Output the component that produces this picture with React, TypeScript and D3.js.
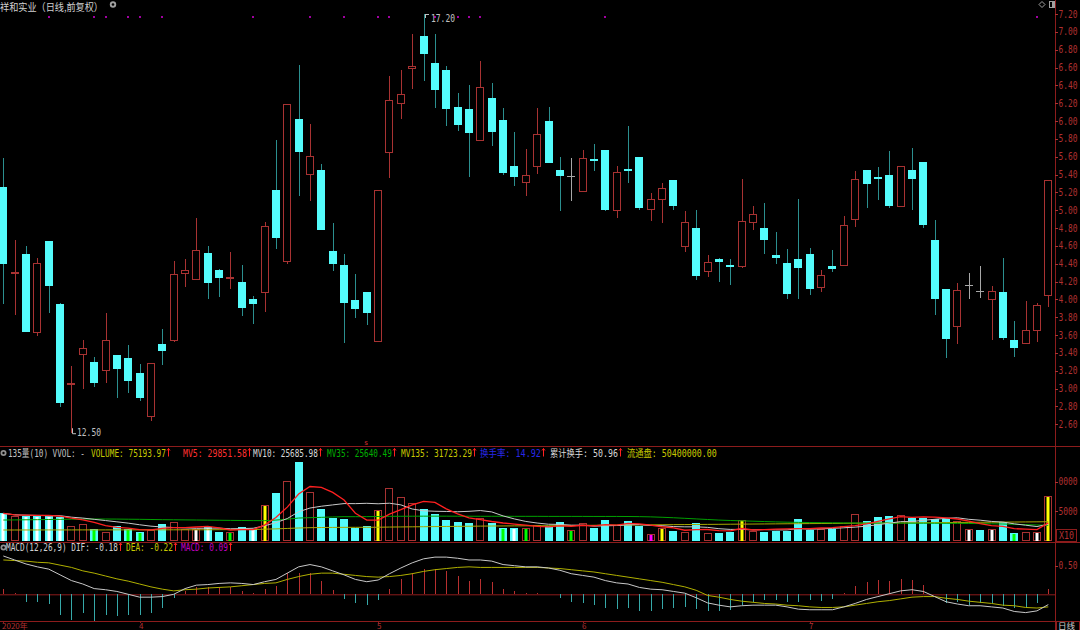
import * as d3 from "d3";

const title = "祥和实业（日线,前复权）";

// daily candles
const opens = [15.26,14.29,14.51,13.64,14.65,13.95,13.04,13.39,13.30,13.21,13.38,13.34,13.17,12.69,13.50,13.55,14.30,14.23,14.52,14.33,14.23,14.20,14.00,14.08,15.23,14.43,16.02,15.41,15.45,14.54,14.39,13.99,14.08,13.53,15.65,16.20,16.60,16.95,16.65,16.57,16.16,16.13,15.79,16.26,16.01,15.50,15.32,15.50,16.00,15.45,15.38,15.22,15.57,15.67,15.00,15.46,15.60,15.01,15.13,15.34,14.60,14.80,14.32,14.45,14.39,14.38,14.87,14.80,14.50,14.41,14.45,14.51,14.14,14.38,14.39,14.90,15.45,15.37,15.39,15.05,15.45,15.54,14.67,14.12,13.70,14.16,14.09,14.01,14.08,13.55,13.51,13.66,14.05];
const highs = [15.59,14.67,14.60,14.46,14.66,13.96,13.25,13.55,13.35,13.85,13.38,13.49,13.28,13.29,13.67,14.43,14.45,14.91,14.60,14.34,14.53,14.39,14.04,14.87,15.79,16.19,16.63,15.97,15.52,14.86,14.51,14.28,14.08,15.23,16.51,16.57,16.98,17.20,16.98,16.62,16.31,16.40,16.67,16.43,16.15,15.88,15.69,16.15,16.16,15.60,15.58,15.67,15.74,15.67,15.50,15.94,15.60,15.19,15.31,15.34,14.99,15.00,14.50,14.47,14.45,15.35,15.05,15.08,14.76,14.57,15.13,14.58,14.33,14.55,14.94,15.44,15.45,15.48,15.66,15.50,15.70,15.54,14.89,14.12,14.18,14.30,14.38,14.15,14.47,13.76,13.98,13.96,15.34];
const lows = [13.95,13.83,13.63,13.59,13.85,12.79,12.50,13.00,13.02,13.06,12.90,12.95,12.86,12.64,13.27,13.52,14.14,14.23,14.00,14.03,14.12,13.81,13.73,13.86,14.56,14.40,15.16,15.10,14.78,14.32,13.51,13.79,13.71,13.53,15.36,16.02,16.36,16.45,16.15,15.94,15.89,15.37,15.79,15.72,15.40,15.27,15.16,15.41,15.53,14.99,15.10,15.20,15.44,14.99,14.91,15.31,15.00,14.88,14.86,15.00,14.53,14.22,14.25,14.20,14.16,14.35,14.78,14.51,14.40,14.00,14.00,14.05,14.08,14.31,14.39,14.81,15.02,15.12,15.02,15.05,15.00,14.80,13.83,13.34,13.50,14.00,14.02,13.55,13.55,13.35,13.51,13.52,13.91];
const closes = [14.40,14.30,13.63,14.41,14.15,12.84,13.05,13.45,13.06,13.55,13.22,13.08,12.90,13.29,13.42,14.29,14.33,14.55,14.18,14.24,14.24,13.90,13.95,14.82,14.69,16.19,15.65,15.61,14.78,14.40,13.96,13.89,13.85,15.23,16.24,16.30,16.62,16.75,16.35,16.13,15.95,15.87,16.38,15.88,15.42,15.37,15.39,15.86,15.53,15.38,15.38,15.58,15.56,15.00,15.43,15.45,15.03,15.13,15.25,15.05,14.87,14.26,14.42,14.42,14.37,14.88,14.96,14.67,14.46,14.06,14.35,14.12,14.27,14.34,14.83,15.35,15.29,15.35,15.05,15.50,15.35,14.83,14.01,13.56,14.11,14.16,14.09,14.09,13.57,13.45,13.66,13.94,15.34];

// volume (hands) and the colour code of each bar: C cyan / R hollow red, W G Y M = inner stripe
const volumes = [46080,40960,41470,41470,41470,40270,24400,27300,18770,14680,24400,18770,13650,17580,27300,31230,18770,18770,22180,14680,13650,22180,18770,60240,80200,101700,134100,82940,52900,37540,35840,21500,24400,52220,89760,73380,63140,52900,44880,34130,30720,29010,37540,29010,21500,21500,20480,26110,24400,30720,18090,29010,20990,34640,26110,33450,24400,10240,21500,15870,13650,29010,11950,11950,13650,34130,16380,14680,15870,15870,36350,17580,19280,19280,24400,44880,32940,39760,41470,43170,38050,38050,36350,36350,32940,19280,17580,18770,30720,12970,14680,14680,75194];
const volStyle = ["CW","R","CW","CW","CW","CW","R","R","CG","R","C","CG","CG","R","C","R","R","RW","CW","C","RG","C","CW","RY","C","R","C","R","C","C","C","C","C","RY","R","R","R","C","C","C","C","C","R","C","CG","CW","RG","R","C","C","RG","R","C","C","R","C","C","RM","RY","C","R","C","R","C","C","RY","R","C","C","C","C","C","R","C","R","R","C","C","C","R","C","C","C","C","R","RW","C","RW","C","CG","R","RW","RY"];
const mv35 = [34600,34800,35000,35200,35500,35800,36000,36200,36300,36300,36200,36000,35800,35500,35200,35000,34800,34600,34400,34200,34000,33800,33600,33500,34500,36000,38000,38600,39200,39800,40300,40300,40400,40600,40900,41000,41100,41200,41200,41200,41100,41100,41000,41000,41000,40900,40900,40900,40800,40800,40800,40800,40700,40700,40700,40600,40400,40000,39300,38500,37500,36500,35500,34500,33800,33200,32600,32000,31400,30900,30600,30300,30100,29900,29700,29500,29400,29300,29300,29300,29200,29200,29100,29000,28900,28700,28500,28200,27800,27300,26800,26200,25640];
const mv135 = [17600,17600,17650,17650,17700,17700,17700,17750,17750,17750,17800,17800,17800,17850,17850,17900,17900,17900,18000,18100,18200,18300,18400,19000,19500,20200,21000,21500,21800,22000,22100,22150,22200,22300,22600,22800,23000,23200,23400,23600,23800,24000,24200,24400,24500,24600,24700,24800,24900,25000,25200,25400,25600,25800,26000,26100,26250,26400,26550,26700,26850,27000,27150,27300,27450,27600,27750,27900,28050,28200,28350,28500,28650,28800,28950,29100,29250,29400,29550,29700,29850,30000,30150,30300,30450,30600,30750,30900,31050,31200,31350,31500,31723];

// MACD(12,26,9)
const dif = [0.67,0.60,0.53,0.48,0.44,0.34,0.24,0.18,0.10,0.08,0.05,0.00,-0.05,-0.05,-0.04,0.00,0.10,0.16,0.17,0.19,0.20,0.19,0.17,0.22,0.26,0.37,0.48,0.52,0.48,0.41,0.34,0.26,0.22,0.25,0.36,0.46,0.55,0.62,0.65,0.65,0.63,0.60,0.60,0.58,0.52,0.50,0.48,0.48,0.46,0.42,0.36,0.33,0.30,0.24,0.20,0.18,0.12,0.09,0.08,0.05,0.02,-0.06,-0.15,-0.19,-0.22,-0.20,-0.19,-0.19,-0.19,-0.22,-0.26,-0.27,-0.27,-0.27,-0.22,-0.16,-0.09,-0.04,0.01,0.06,0.08,0.05,-0.04,-0.13,-0.17,-0.20,-0.20,-0.22,-0.24,-0.30,-0.32,-0.29,-0.18];
const dea = [0.60,0.59,0.58,0.56,0.55,0.51,0.47,0.41,0.37,0.32,0.27,0.23,0.18,0.13,0.09,0.06,0.08,0.09,0.11,0.12,0.13,0.15,0.17,0.19,0.20,0.26,0.31,0.35,0.37,0.37,0.35,0.33,0.31,0.30,0.31,0.33,0.36,0.40,0.43,0.45,0.47,0.48,0.47,0.47,0.47,0.47,0.47,0.47,0.46,0.45,0.43,0.41,0.39,0.36,0.33,0.30,0.27,0.24,0.21,0.17,0.13,0.07,-0.02,-0.05,-0.09,-0.12,-0.14,-0.16,-0.17,-0.19,-0.20,-0.22,-0.23,-0.23,-0.22,-0.19,-0.16,-0.13,-0.11,-0.08,-0.05,-0.04,-0.04,-0.07,-0.09,-0.12,-0.14,-0.16,-0.19,-0.20,-0.23,-0.24,-0.22];
const macd = [0.10,0.03,-0.13,-0.13,-0.17,-0.36,-0.45,-0.32,-0.46,-0.36,-0.38,-0.36,-0.36,-0.32,-0.24,-0.07,0.05,0.12,0.13,0.12,0.13,0.06,0.03,0.10,0.15,0.37,0.38,0.38,0.23,0.08,-0.09,-0.16,-0.18,-0.10,0.10,0.26,0.38,0.44,0.44,0.40,0.32,0.24,0.26,0.22,0.10,0.06,0.02,0.02,0.00,-0.06,-0.14,-0.16,-0.18,-0.24,-0.26,-0.24,-0.30,-0.30,-0.26,-0.24,-0.22,-0.26,-0.30,-0.30,-0.27,-0.19,-0.13,-0.10,-0.10,-0.14,-0.14,-0.10,-0.12,-0.09,0.02,0.15,0.22,0.25,0.23,0.27,0.25,0.16,0.00,-0.16,-0.13,-0.19,-0.16,-0.16,-0.20,-0.24,-0.22,-0.16,0.09];

const priceTicks = d3.range(0, 24).map((k) => +(17.2 - k * 0.2).toFixed(2));
const volTicks = [100000, 50000];
const macdTicks = [0.5];
const dateIdx = [0, 12, 33, 51, 71];
const dateLabels = ["2020年", "4", "5", "6", "7"];
const markerIdx = [4, 8, 9, 11, 12, 14, 22, 27, 30, 33, 34, 38, 40, 41, 42, 53, 91];

const volLegend = [
  { t: "135量(10) VVOL: -", x: 8, w: 77, c: "#c0c0c0" },
  { t: "VOLUME: 75193.97", x: 91, w: 75, c: "#c8c800", up: true },
  { t: "MV5: 29851.58", x: 183, w: 64, c: "#ff3030", up: true },
  { t: "MV10: 25685.98", x: 253, w: 65, c: "#d8d8d8", up: true },
  { t: "MV35: 25640.49", x: 327, w: 65, c: "#00b000", up: true },
  { t: "MV135: 31723.29", x: 401, w: 71, c: "#c8c800", up: true },
  { t: "换手率: 14.92", x: 480, w: 61, c: "#2828e8", up: true },
  { t: "累计换手: 50.96", x: 550, w: 68, c: "#d8d8d8", up: true },
  { t: "流通盘: 50400000.00", x: 627, w: 90, c: "#c8c800" },
];
const macdLegend = [
  { t: "MACD(12,26,9) DIF: -0.18", x: 6, w: 112, c: "#d0d0d0", up: true },
  { t: "DEA: -0.22", x: 126, w: 47, c: "#c8c800", up: true },
  { t: "MACD: 0.09", x: 181, w: 47, c: "#c000c0", up: true },
];

const CYAN = "#54fcfc";
const CYAN_W = "#2b8f8f";
const RED = "#a83232";
const GRAY = "#a8a8a8";
const AXIS = "#8c1c1c";
const LBL = "#b03030";
const FONT = "'DejaVu Sans Mono','Noto Sans CJK SC',monospace";
const stripeCol: Record<string, string> = { W: "#ffffff", G: "#00ff00", Y: "#ffff00", M: "#ff00ff" };

// narrow bitmap-like text: squeeze a mono font to the width seen in the picture
function Narrow({ t, x, y, w, fill, size = 10, end = false }: { t: string; x: number; y: number; w: number; fill: string; size?: number; end?: boolean }) {
  const natural = Array.from(t).reduce((s, ch) => s + (ch.charCodeAt(0) > 0x2e80 ? size : size * 0.602), 0);
  const k = w / natural;
  const x0 = end ? x - w : x;
  return (
    <text transform={`translate(${x0},${y}) scale(${k.toFixed(3)},1)`} fill={fill} fontSize={size} fontFamily={FONT}>
      {t}
    </text>
  );
}

function Legend({ items, y }: { items: typeof volLegend; y: number }) {
  return (
    <g>
      <circle cx={3.5} cy={y - 3.5} r={3} fill="#909090" />
      <circle cx={3.5} cy={y - 3.5} r={1.2} fill="#000" />
      {items.map((d) => {
        const ax = Math.round(d.x + d.w + 2) + 0.5;
        return (
          <g key={d.t}>
            <Narrow t={d.t} x={d.x} y={y} w={d.w} fill={d.c} />
            {d.up && (
              <path d={`M${ax},${y - 8}L${ax},${y}M${ax - 1.5},${y - 6}L${ax},${y - 8}L${ax + 1.5},${y - 6}`} stroke="#ff2020" fill="none" />
            )}
          </g>
        );
      })}
    </g>
  );
}

// the terminal shows only the last four characters of an axis label
const shortLabel = (s: string) => (s.length > 4 ? s.slice(s.length - 4) : s);

export default function App() {
  const n = closes.length;
  const x = d3.scalePoint<number>().domain(d3.range(n)).range([3.3, 1048.3]);
  const yP = d3.scaleLinear().domain([12.6, 17.2]).range([424.3, 14]);
  const yV = d3.scaleLinear().domain([0, 100000]).range([540.3, 481.7]);
  const yM = d3.scaleLinear().domain([0, 0.5]).range([594.3, 565.7]);
  const px = (i: number) => Math.round(x(i)!);

  const ma = (k: number) => volumes.map((_, i) => d3.mean(volumes.slice(Math.max(0, i - k + 1), i + 1))!);
  const vLine = d3.line<number>().x((_, i) => x(i)!).y((d) => yV(d));
  const mLine = d3.line<number>().x((_, i) => x(i)!).y((d) => yM(d));

  const hi = d3.maxIndex(highs);
  const lo = d3.minIndex(lows);

  return (
    <div style={{ position: "fixed", left: 0, top: 0 }}>
      <svg width={1080} height={630} style={{ display: "block", background: "#000" }}>
        <defs>
          <clipPath id="plotClip">
            <rect x={0} y={0} width={1055} height={630} />
          </clipPath>
        </defs>

        {/* title */}
        <text x={0} y={10.5} fill="#d0d0d0" fontSize={10.5} fontFamily="'Noto Sans CJK SC',sans-serif" textLength={103} lengthAdjust="spacingAndGlyphs">{title}</text>
        <circle cx={113} cy={4.5} r={3.2} fill="#a0a0a0" />
        <circle cx={113} cy={4.5} r={1.3} fill="#000" />
        <path d="M1042,1.5L1045,4.5L1042,7.5L1039,4.5Z" fill="none" stroke="#a0a0a0" />
        <rect x={1049.5} y={1.5} width={5} height={6} fill="none" stroke="#a0a0a0" />
        <rect x={1052} y={2} width={2.5} height={5} fill="#a0a0a0" />
        {markerIdx.map((i) => (
          <rect key={i} x={px(i) - 1} y={16} width={2} height={2} fill="#a000a0" />
        ))}

        {/* frame lines */}
        <g stroke={AXIS} strokeWidth={1}>
          <line x1={0} x2={1080} y1={446.5} y2={446.5} />
          <line x1={0} x2={1080} y1={542.5} y2={542.5} />
          <line x1={0} x2={1080} y1={621.5} y2={621.5} />
          <line x1={1055.5} x2={1055.5} y1={0} y2={630} />
          <line x1={0} x2={1055} y1={yM(0) + 0.5} y2={yM(0) + 0.5} />
        </g>

        {/* candles */}
        <g clipPath="url(#plotClip)">
          {closes.map((c, i) => {
            const o = opens[i];
            const cx = px(i);
            const yt = Math.round(yP(Math.max(o, c)));
            const yb = Math.round(yP(Math.min(o, c)));
            const yh = Math.round(yP(highs[i]));
            const yl = Math.round(yP(lows[i]));
            if (c > o) {
              return (
                <g key={i} stroke={RED} fill="none">
                  <line x1={cx + 0.5} x2={cx + 0.5} y1={yh} y2={yt} />
                  <line x1={cx + 0.5} x2={cx + 0.5} y1={yb} y2={yl} />
                  {yb - yt >= 2 ? (
                    <rect x={cx - 3.5} y={yt + 0.5} width={7} height={yb - yt} fill="#000" />
                  ) : (
                    <rect x={cx - 3.5} y={yt - 0.5} width={7} height={Math.max(yb - yt, 1)} fill="#000" />
                  )}
                </g>
              );
            }
            if (c < o) {
              return (
                <g key={i}>
                  <line x1={cx + 0.5} x2={cx + 0.5} y1={yh} y2={yl} stroke={CYAN_W} />
                  <rect x={cx - 4} y={yt} width={8} height={Math.max(yb - yt, 2)} fill={CYAN} />
                </g>
              );
            }
            return (
              <g key={i} stroke={GRAY}>
                <line x1={cx + 0.5} x2={cx + 0.5} y1={yh} y2={yl} />
                <line x1={cx - 4} x2={cx + 4} y1={yt + 0.5} y2={yt + 0.5} />
              </g>
            );
          })}
        </g>

        {/* high / low marks */}
        <g stroke="#c0c0c0" fill="none">
          <path d={`M${px(hi) + 1},${yP(highs[hi]) + 0.5}L${px(hi) + 5},${yP(highs[hi]) + 0.5}M${px(hi) + 1.5},${yP(highs[hi])}L${px(hi) + 1.5},${yP(highs[hi]) + 4}`} />
          <path d={`M${px(lo) + 1.5},${yP(lows[lo]) - 5}L${px(lo) + 1.5},${yP(lows[lo]) + 0.5}L${px(lo) + 5},${yP(lows[lo]) + 0.5}`} />
        </g>
        <Narrow t={highs[hi].toFixed(2)} x={px(hi) + 7} y={yP(highs[hi]) + 8} w={24} fill="#c0c0c0" />
        <Narrow t={lows[lo].toFixed(2)} x={px(lo) + 6} y={yP(lows[lo]) + 3} w={24} fill="#c0c0c0" />

        {/* price axis */}
        {priceTicks.map((t) => (
          <g key={t}>
            <line x1={1055} x2={1058} y1={Math.round(yP(t)) + 0.5} y2={Math.round(yP(t)) + 0.5} stroke={LBL} />
            <Narrow t={shortLabel(t.toFixed(2))} x={1077.5} y={yP(t) + 3.5} w={19} fill={LBL} end />
          </g>
        ))}

        {/* volume */}
        <Legend items={volLegend} y={456.5} />
        <text x={364} y={445} fill="#e03030" fontSize={7} fontFamily={FONT}>s</text>
        <g clipPath="url(#plotClip)">
          {volumes.map((v, i) => {
            const cx = px(i);
            const yt = Math.round(yV(v));
            const st = volStyle[i];
            const base = Math.round(yV(0));
            return (
              <g key={i}>
                {st[0] === "C" ? (
                  <rect x={cx - 4} y={yt} width={8} height={base - yt + 1} fill={CYAN} />
                ) : (
                  <rect x={cx - 3.5} y={yt + 0.5} width={7} height={base - yt} fill="#000" stroke={RED} />
                )}
                {st[1] && <rect x={cx - 1.5} y={yt + 1} width={3} height={base - yt} fill={stripeCol[st[1]]} />}
              </g>
            );
          })}
          <path d={vLine(mv135)!} fill="none" stroke="#a8a800" strokeWidth={1} />
          <path d={vLine(mv35)!} fill="none" stroke="#00a000" strokeWidth={1} />
          <path d={vLine(ma(10))!} fill="none" stroke="#c8c8c8" strokeWidth={1} />
          <path d={vLine(ma(5))!} fill="none" stroke="#ff2020" strokeWidth={1.3} />
        </g>
        {volTicks.map((t) => (
          <g key={t}>
            <line x1={1055} x2={1058} y1={Math.round(yV(t)) + 0.5} y2={Math.round(yV(t)) + 0.5} stroke={LBL} />
            <Narrow t={shortLabel(String(t / 10))} x={1077.5} y={yV(t) + 3.5} w={19} fill={LBL} end />
          </g>
        ))}
        <rect x={1056.5} y={529.5} width={20} height={12} fill="none" stroke={AXIS} />
        <Narrow t="X10" x={1059} y={539} w={15} fill={LBL} />

        {/* MACD */}
        <Legend items={macdLegend} y={551} />
        <g clipPath="url(#plotClip)">
          {macd.map((m, i) => {
            const cx = px(i) + 0.5;
            return <line key={i} x1={cx} x2={cx} y1={Math.round(yM(0))} y2={Math.round(yM(m))} stroke={m >= 0 ? "#b83030" : "#36a8a8"} />;
          })}
          <path d={mLine(dea)!} fill="none" stroke="#b0b000" strokeWidth={1} />
          <path d={mLine(dif)!} fill="none" stroke="#c8c8c8" strokeWidth={1} />
        </g>
        {macdTicks.map((t) => (
          <g key={t}>
            <line x1={1055} x2={1058} y1={Math.round(yM(t)) + 0.5} y2={Math.round(yM(t)) + 0.5} stroke={LBL} />
            <Narrow t={shortLabel(t.toFixed(2))} x={1077.5} y={yM(t) + 3.5} w={19} fill={LBL} end />
          </g>
        ))}

        {/* date axis */}
        <g fontFamily="'Noto Sans CJK SC',sans-serif" fontSize={8} fill={LBL}>
          {dateIdx.map((i, k) => (
            <g key={i}>
              <line x1={px(i) + 0.5} x2={px(i) + 0.5} y1={621} y2={623} stroke={AXIS} />
              <text x={Math.max(px(i) - 1, 1)} y={628.5}>{dateLabels[k]}</text>
            </g>
          ))}
        </g>
        <rect x={1056.5} y={621.5} width={23} height={10} fill="none" stroke={AXIS} />
        <text x={1058} y={628.5} fill="#d0d0d0" fontSize={8.5} fontFamily="'Noto Sans CJK SC',sans-serif">日线</text>
      </svg>
    </div>
  );
}
